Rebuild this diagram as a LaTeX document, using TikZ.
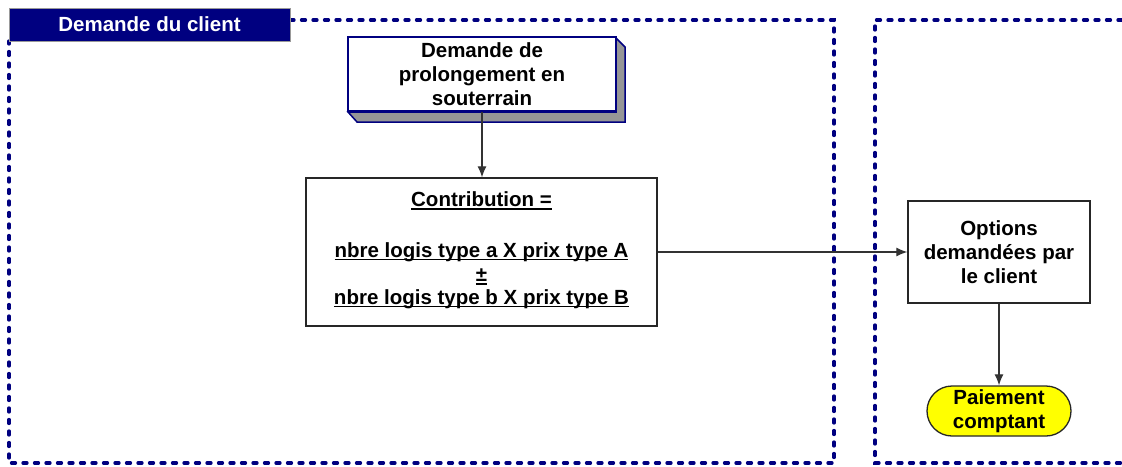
\documentclass[tikz,border=0pt]{standalone}
\usepackage{fontspec}
\setmainfont{Liberation Sans}
\usetikzlibrary{arrows.meta,shapes.misc}
\definecolor{navy}{RGB}{0,0,128}
\definecolor{sidegray}{RGB}{150,150,150}
\definecolor{yel}{RGB}{255,255,0}
\newcommand\myul[1]{\leavevmode\setbox0\hbox{#1}\rlap{\rule[-3pt]{\wd0}{1.6pt}}\box0}
\tikzset{
  zone/.style={draw=navy,line width=3.3pt,dash pattern=on 4pt off 7.5pt,line cap=round},
  box/.style={draw=black!85,line width=1.3pt,fill=white,align=center,font=\bfseries\fontsize{20.5}{24}\selectfont,inner sep=0pt},
  ctext/.style={font=\bfseries\fontsize{20.5}{24}\selectfont,inner sep=0pt},
  conn/.style={draw=black!80,line width=1.2pt,-{Latex[length=11pt,width=9pt]}},
}
\begin{document}
\begin{tikzpicture}[x=1pt,y=-1pt]
\useasboundingbox (0,0) rectangle (1122,466);
% zones
\draw[zone] (290,20) -- (834,20) -- (834,463) -- (9,463) -- (9,41);
\draw[zone] (1122,20) -- (875,20) -- (875,463) -- (1122,463);
% title
\node[draw=black!40,line width=0.8pt,fill=navy,text=white,minimum width=281pt,minimum height=33pt,inner sep=0pt,font=\bfseries\fontsize{20.5}{24}\selectfont] (title) at (149.5,24.5) {Demande du client};
% 3D box
\fill[sidegray,draw=navy,line width=1.5pt] (616,38) -- (625,47) -- (625,122) -- (357,122) -- (348,112) -- (616,112) -- cycle;
\node[box,draw=navy,line width=1.5pt,minimum width=268pt,minimum height=74pt] (dem) at (482,74) {Demande de\\prolongement en\\souterrain};
% contribution
\node[box,minimum width=351pt,minimum height=148pt] (contrib) at (481.5,252) {};
\node[ctext] (c1) at (481.5,201) {\myul{Contribution =}};
\node[ctext] (c2) at (481.5,252) {\myul{nbre logis type a X prix type A}};
\node[ctext] (c3) at (481.5,277) {\myul{±}};
\node[ctext] (c4) at (481.5,299) {\myul{nbre logis type b X prix type B}};
% options
\node[box,minimum width=182pt,minimum height=102pt] (opt) at (999,252) {Options\\demandées par\\le client};
% paiement
\node[box,rounded rectangle,fill=yel,line width=1.3pt,minimum width=144pt,minimum height=50pt,font=\bfseries\fontsize{20.5}{24}\selectfont] (pay) at (999,411) {Paiement\\comptant};
% connectors
\draw[conn] (dem.south) -- (dem.south |- contrib.north);
\draw[conn] (contrib.east |- opt.west) -- (opt.west);
\draw[conn] (opt.south) -- (pay.north);
\end{tikzpicture}
\end{document}
